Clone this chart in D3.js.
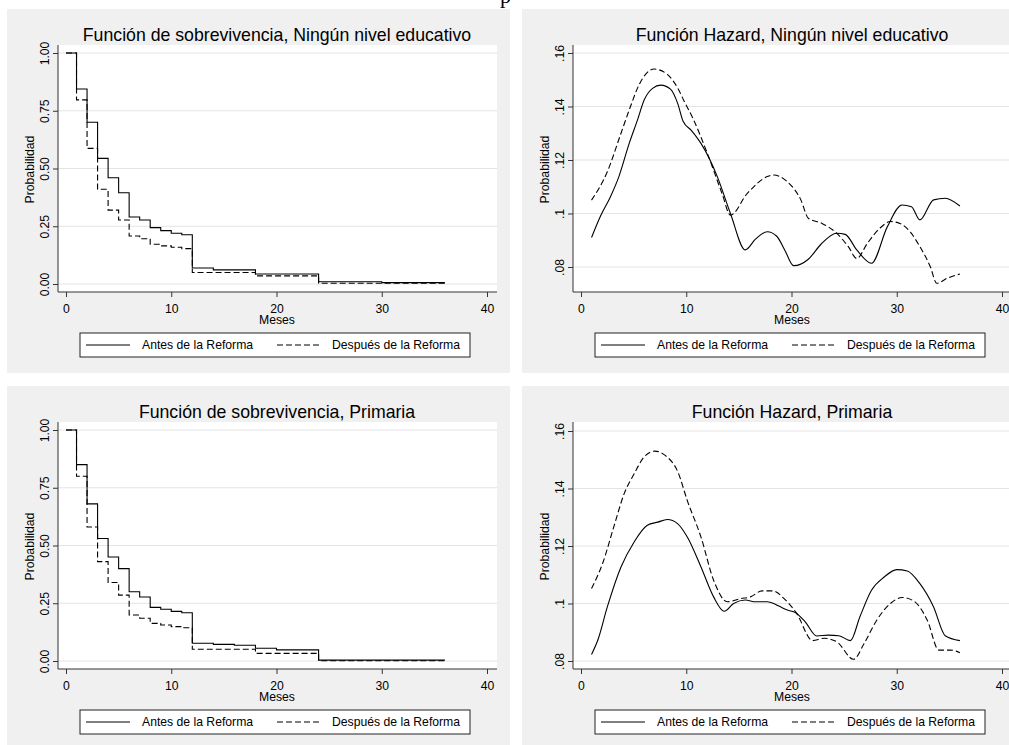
<!DOCTYPE html>
<html>
<head>
<meta charset="utf-8">
<title>Funciones de sobrevivencia y hazard</title>
<script src="https://cdn.jsdelivr.net/npm/d3@7"></script>
<style>
    body {
        margin:0;
        background:white;
    }
    svg {
        display:block;
        font-family:"Liberation Sans", Arial, sans-serif;
    }
    .title {
        font-size:17.7px;
        text-anchor:middle;
    }
    .tick text, .axlabel, .legtext {
        font-size:12.2px;
    }
</style>
</head>
<body>
<svg id="svg" width="1009" height="745"></svg>
<script>
// tick values and labels
const xTicks = [0, 10, 20, 30, 40];
const survTicks = [0, 0.25, 0.5, 0.75, 1];
const survTickLabels = ["0.00", "0.25", "0.50", "0.75", "1.00"];
const hazTicks = [0.08, 0.1, 0.12, 0.14, 0.16];
const hazTickLabels = [".08", ".1", ".12", ".14", ".16"];
const legendLabels = ["Antes de la Reforma", "Después de la Reforma"];

// Kaplan-Meier, ningun nivel educativo
const survNingunoAntesT = [0, 1, 2, 3, 4, 5, 6, 7, 8, 9, 10, 11, 12, 14, 18, 24, 30, 36];
const survNingunoAntesS = [1.00, 0.844, 0.70, 0.544, 0.46, 0.395, 0.29, 0.277, 0.244, 0.231, 0.22, 0.213, 0.069, 0.061, 0.043, 0.010, 0.006, 0.006];
const survNingunoDespuesT = [0, 1, 2, 3, 4, 5, 6, 7, 8, 9, 10, 11, 12, 18, 24, 36];
const survNingunoDespuesS = [1.00, 0.797, 0.587, 0.41, 0.32, 0.277, 0.208, 0.196, 0.172, 0.165, 0.159, 0.153, 0.05, 0.035, 0.003, 0.003];

// Kaplan-Meier, primaria
const survPrimariaAntesT = [0, 1, 2, 3, 4, 5, 6, 7, 8, 9, 10, 11, 12, 14, 16, 18, 20, 24, 36];
const survPrimariaAntesS = [1.00, 0.85, 0.68, 0.53, 0.45, 0.40, 0.30, 0.277, 0.232, 0.224, 0.215, 0.209, 0.077, 0.072, 0.068, 0.055, 0.048, 0.004, 0.004];
const survPrimariaDespuesT = [0, 1, 2, 3, 4, 5, 6, 7, 8, 9, 10, 11, 12, 18, 24, 36];
const survPrimariaDespuesS = [1.00, 0.80, 0.58, 0.43, 0.34, 0.285, 0.199, 0.185, 0.163, 0.156, 0.149, 0.144, 0.051, 0.033, 0.001, 0.001];

// smoothed hazard, ningun nivel educativo
const hazNingunoAntesT = [1, 1.9, 2.8, 3.6, 4.58, 5.37, 6.0, 6.8, 7.58, 8.5, 9.2, 9.7, 10.5, 11.4, 12.95, 14.2, 15.6, 16.6, 17.7, 18.6, 19.4, 20.2, 21.6, 22.8, 24.3, 25.1, 26.2, 27.6, 29.1, 30.5, 31.4, 32.2, 33.5, 34.6, 36];
const hazNingunoAntesH = [0.091, 0.0994, 0.1063, 0.1138, 0.1262, 0.135, 0.1424, 0.1468, 0.148, 0.1465, 0.141, 0.1345, 0.131, 0.1262, 0.1138, 0.1, 0.0864, 0.0905, 0.0932, 0.0915, 0.086, 0.0805, 0.0829, 0.0885, 0.0926, 0.0922, 0.0864, 0.0814, 0.095, 0.1032, 0.1025, 0.0976, 0.1051, 0.1057, 0.1028];
const hazNingunoDespuesT = [1, 2.5, 3.8, 4.7, 5.5, 6.95, 8.2, 9.2, 9.8, 10.7, 12, 13.4, 14.2, 15.8, 17.7, 18.3, 19.6, 20.9, 21.6, 22.9, 24.3, 25.4, 26.2, 27.2, 28.4, 29.4, 30.3, 31.3, 32.2, 33.2, 33.8, 34.8, 36];
const hazNingunoDespuesH = [0.105, 0.1156, 0.130, 0.140, 0.148, 0.154, 0.152, 0.1468, 0.142, 0.135, 0.1225, 0.1075, 0.0994, 0.1075, 0.1138, 0.1144, 0.1119, 0.105, 0.0982, 0.0963, 0.0926, 0.0876, 0.0832, 0.0888, 0.0945, 0.097, 0.0963, 0.093, 0.0876, 0.080, 0.0739, 0.0758, 0.0774];

// smoothed hazard, primaria
const hazPrimariaAntesT = [1, 1.6, 2.5, 3.8, 5.05, 6.3, 7.3, 8.2, 9.2, 10.1, 11.4, 12.6, 13.6, 14.5, 15.6, 16.6, 17.7, 18.8, 19.6, 20.4, 21.3, 22.4, 23.5, 24.5, 25.6, 26.5, 27.6, 28.8, 30, 31, 32.2, 33.5, 34.6, 36];
const hazPrimariaAntesH = [0.0823, 0.0873, 0.0988, 0.1127, 0.1214, 0.1272, 0.1283, 0.1292, 0.1277, 0.1231, 0.1127, 0.1023, 0.0973, 0.1, 0.1012, 0.1006, 0.1006, 0.0991, 0.0977, 0.0968, 0.0936, 0.0887, 0.089, 0.0888, 0.0871, 0.0954, 0.1046, 0.1092, 0.1118, 0.1113, 0.1069, 0.0988, 0.0888, 0.0871];
const hazPrimariaDespuesT = [1, 2.05, 3.2, 4.1, 5.05, 6, 7, 8, 9.2, 10.1, 11.4, 12.6, 13.9, 15.2, 16.1, 17.2, 18.2, 19.3, 20.5, 22, 23.1, 24.3, 25.9, 26.9, 28.1, 29.4, 30.5, 31.6, 32.9, 34, 35.1, 36];
const hazPrimariaDespuesH = [0.1052, 0.1139, 0.1277, 0.1382, 0.1451, 0.151, 0.153, 0.1515, 0.1458, 0.1358, 0.1231, 0.1081, 0.1006, 0.1017, 0.1023, 0.1044, 0.1044, 0.1017, 0.0965, 0.0871, 0.0879, 0.0867, 0.0806, 0.0861, 0.0942, 0.1, 0.1021, 0.1009, 0.0942, 0.0838, 0.0838, 0.0829];

const zip = (ts, vs) => ts.map((t, i) => [t, vs[i]]);

// panel layout (positions relative to page / panel)
const panels = [
    {x:7, y:9, title:"Función de sobrevivencia, Ningún nivel educativo", step:true,
     yTicks:survTicks, yLabels:survTickLabels, yDomain:[0, 1], yRange:[275, 44],
     series:[zip(survNingunoAntesT, survNingunoAntesS), zip(survNingunoDespuesT, survNingunoDespuesS)]},
    {x:522, y:9, title:"Función Hazard, Ningún nivel educativo", step:false,
     yTicks:hazTicks, yLabels:hazTickLabels, yDomain:[0.08, 0.16], yRange:[258, 44],
     series:[zip(hazNingunoAntesT, hazNingunoAntesH), zip(hazNingunoDespuesT, hazNingunoDespuesH)]},
    {x:7, y:386, title:"Función de sobrevivencia, Primaria", step:true,
     yTicks:survTicks, yLabels:survTickLabels, yDomain:[0, 1], yRange:[275, 44],
     series:[zip(survPrimariaAntesT, survPrimariaAntesS), zip(survPrimariaDespuesT, survPrimariaDespuesS)]},
    {x:522, y:386, title:"Función Hazard, Primaria", step:false,
     yTicks:hazTicks, yLabels:hazTickLabels, yDomain:[0.08, 0.16], yRange:[275, 45],
     series:[zip(hazPrimariaAntesT, hazPrimariaAntesH), zip(hazPrimariaDespuesT, hazPrimariaDespuesH)]}
];

const box = {width:503, height:364};
const plot = {left:51, right:490, top:36, bottom:283};
const dashes = [null, "6,3"];

let mySvg = d3.select('#svg');

// bit of the page text above the figure (cut off)
mySvg.append("text")
    .attr("x", 500).attr("y", 3)
    .style("font-family", "'Liberation Serif', 'Times New Roman', serif")
    .style("font-size", "22px")
    .text("p");

function drawPanel(p) {
    let g = mySvg.append("g").attr("transform", `translate(${p.x},${p.y})`);

    g.append("rect")
        .attr("width", box.width).attr("height", box.height)
        .attr("fill", "#f0f0f0");

    g.append("rect")
        .attr("x", plot.left).attr("y", plot.top)
        .attr("width", plot.right - plot.left).attr("height", plot.bottom - plot.top)
        .attr("fill", "white");

    let xScale = d3.scaleLinear().domain([0, 40]).range([59, 480]);
    let yScale = d3.scaleLinear().domain(p.yDomain).range(p.yRange);

    // grid
    g.selectAll(".grid").data(p.yTicks).enter().append("line")
        .attr("x1", plot.left).attr("x2", plot.right)
        .attr("y1", d => yScale(d)).attr("y2", d => yScale(d))
        .attr("stroke", "#e4e4e4").attr("stroke-width", 1);

    // x axis
    let xAxis = d3.axisBottom(xScale).tickValues(xTicks).tickSize(5).tickSizeOuter(0);
    let gx = g.append("g").attr("transform", `translate(0,${plot.bottom})`).call(xAxis);
    gx.select(".domain").remove();
    gx.append("line").attr("x1", plot.left).attr("x2", plot.right).attr("stroke", "#333");
    gx.selectAll(".tick line").attr("stroke", "#333");
    gx.selectAll(".tick text").attr("y", 12).attr("fill", "black")
        .style("font-family", "inherit");

    // y axis
    let yAxis = d3.axisLeft(yScale).tickValues(p.yTicks).tickSize(5).tickSizeOuter(0)
        .tickFormat((d, i) => p.yLabels[i]);
    let gy = g.append("g").attr("transform", `translate(${plot.left},0)`).call(yAxis);
    gy.select(".domain").remove();
    gy.append("line").attr("y1", plot.top).attr("y2", plot.bottom).attr("stroke", "#333");
    gy.selectAll(".tick line").attr("stroke", "#333");
    gy.selectAll(".tick text")
        .attr("x", null).attr("dy", null)
        .attr("transform", "translate(-9,0) rotate(-90)")
        .attr("text-anchor", "middle").attr("fill", "black")
        .style("font-family", "inherit");

    g.append("text").attr("class", "axlabel")
        .attr("transform", `translate(27,${(plot.top + plot.bottom) / 2 + 1}) rotate(-90)`)
        .attr("text-anchor", "middle")
        .text("Probabilidad");

    g.append("text").attr("class", "axlabel")
        .attr("x", 270).attr("y", plot.bottom + 32)
        .attr("text-anchor", "middle")
        .text("Meses");

    g.append("text").attr("class", "title")
        .attr("x", 270).attr("y", 32)
        .text(p.title);

    // curves
    let line = d3.line()
        .x(d => xScale(d[0]))
        .y(d => yScale(d[1]))
        .curve(p.step ? d3.curveStepAfter : d3.curveMonotoneX);

    p.series.forEach((s, i) => {
        g.append("path")
            .attr("d", line(s))
            .attr("fill", "none")
            .attr("stroke", "black")
            .attr("stroke-width", 1.1)
            .attr("stroke-dasharray", dashes[i]);
    });

    // legend
    let lg = g.append("g").attr("transform", "translate(73,324)");
    lg.append("rect").attr("width", 390).attr("height", 24)
        .attr("fill", "white").attr("stroke", "#222").attr("stroke-width", 1);
    let items = [{x:6, tx:62}, {x:197, tx:252}];
    items.forEach((it, i) => {
        lg.append("line")
            .attr("x1", it.x).attr("x2", it.x + 44)
            .attr("y1", 12).attr("y2", 12)
            .attr("stroke", "black").attr("stroke-width", 1.1)
            .attr("stroke-dasharray", dashes[i]);
        lg.append("text").attr("class", "legtext")
            .attr("x", it.tx).attr("y", 16)
            .text(legendLabels[i]);
    });
}

panels.forEach(drawPanel);
</script>
</body>
</html>
